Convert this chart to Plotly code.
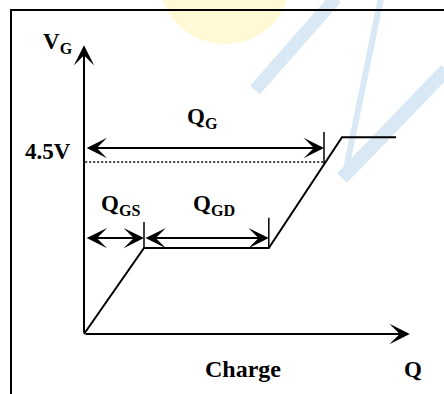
import plotly.graph_objects as go

W, H = 444, 394

# ---- data (gate-charge curve, arbitrary charge units / volts) ----
charge = [0.0, 1.0, 3.08, 4.3, 5.2]
vgate = [0.0, 2.25, 2.25, 5.15, 5.15]
q_gs = 1.0          # end of Q_GS region
q_gd_end = 3.08     # end of Miller plateau
q_g = 4.0           # total gate charge at 4.5 V
v_drive = 4.5
x_axis_end = 5.43
y_axis_end = 7.56
label_vdrive = "4.5V"

# ---- axis mapping (pixel layout of the figure) ----
x_px0, x_scale = 84, 60.0
y_px0, y_scale = 334, 38.2
xr = [-x_px0 / x_scale, (W - x_px0) / x_scale]
yr = [-(H - y_px0) / y_scale, y_px0 / y_scale]

FONT = "Liberation Serif, Times New Roman, serif"
BLACK = "#000000"

fig = go.Figure()

# main curve
fig.add_trace(go.Scatter(x=charge, y=vgate, mode="lines",
                         line=dict(color=BLACK, width=2), hoverinfo="skip"))
# dotted 4.5 V reference
fig.add_trace(go.Scatter(x=[0.02, q_g], y=[v_drive, v_drive], mode="lines",
                         line=dict(color=BLACK, width=1.5, dash="2px,2px"), hoverinfo="skip"))

arr_qg = 4.87
arr_low = 2.51
# vertical tick markers
ticks = [(q_g, arr_qg - 0.45, arr_qg + 0.42),
         (q_gs, vgate[1], arr_low + 0.42),
         (q_gd_end, vgate[2], arr_low + 0.53)]
for xv, y0, y1 in ticks:
    fig.add_trace(go.Scatter(x=[xv, xv], y=[y0, y1], mode="lines",
                             line=dict(color=BLACK, width=1.5), hoverinfo="skip"))

ann = []
def arrow(x0, y0, x1, y1, both=False):
    d = dict(x=x1, y=y1, ax=x0, ay=y0, xref="x", yref="y", axref="x", ayref="y",
             text="", showarrow=True, arrowhead=3, arrowsize=1.7, arrowwidth=2,
             arrowcolor=BLACK, standoff=0, startstandoff=0)
    if both:
        d.update(arrowside="end+start", startarrowhead=3, startarrowsize=1.7)
    ann.append(d)

# axes
arrow(0, 0, 0, y_axis_end)
arrow(0, 0, x_axis_end, 0)
# dimension arrows
arrow(0.02, arr_qg, q_g, arr_qg, both=True)
arrow(0.02, arr_low, q_gs, arr_low, both=True)
arrow(q_gs, arr_low, q_gd_end, arr_low, both=True)

def label(txt, x, y, xanchor="center", size=23):
    ann.append(dict(x=x, y=y, xref="x", yref="y", text=txt, showarrow=False,
                    xanchor=xanchor, yanchor="middle",
                    font=dict(family=FONT, size=size, color=BLACK)))

label("<b>V<sub>G</sub></b>", -0.71, 7.62, xanchor="left")
label("<b>Q<sub>G</sub></b>", 1.97, 5.66)
label("<b>Q<sub>GS</sub></b>", 0.6, 3.38)
label("<b>Q<sub>GD</sub></b>", 2.17, 3.38)
label("<b>%s</b>" % label_vdrive, -0.19, 4.79, xanchor="right")
label("<b>Charge</b>", 2.65, -0.92, size=24)
label("<b>Q</b>", 5.48, -0.92)

def px(x):
    return x / W
def py(y):
    return 1 - y / H

shapes = [
    # watermark (faint)
    dict(type="circle", xref="paper", yref="paper", x0=px(160), x1=px(290), y0=py(-80), y1=py(44),
         fillcolor="#FFF6C4", line=dict(width=0), opacity=0.7, layer="below"),
    dict(type="line", xref="paper", yref="paper", x0=px(255), y0=py(90), x1=px(336), y1=py(-2),
         line=dict(color="#D8E8F5", width=13), layer="below"),
    dict(type="line", xref="paper", yref="paper", x0=px(381), y0=py(-2), x1=px(345), y1=py(174),
         line=dict(color="#D8E8F5", width=6), layer="below"),
    dict(type="line", xref="paper", yref="paper", x0=px(342), y0=py(178), x1=px(446), y1=py(70),
         line=dict(color="#D8E8F5", width=14), layer="below"),
    # frame
    dict(type="line", xref="paper", yref="paper", x0=px(10), y0=py(10), x1=px(444), y1=py(10),
         line=dict(color=BLACK, width=2)),
    dict(type="line", xref="paper", yref="paper", x0=px(11), y0=py(9), x1=px(11), y1=py(394),
         line=dict(color=BLACK, width=2)),
]

fig.update_layout(
    width=W, height=H, margin=dict(l=0, r=0, t=0, b=0),
    paper_bgcolor="white", plot_bgcolor="white", showlegend=False,
    xaxis=dict(range=xr, visible=False, fixedrange=True),
    yaxis=dict(range=yr, visible=False, fixedrange=True),
    annotations=ann, shapes=shapes,
)
fig.write_html("out.html", config={"displayModeBar": False},
               post_script="document.body.style.margin='0';document.body.style.overflow='hidden';")
